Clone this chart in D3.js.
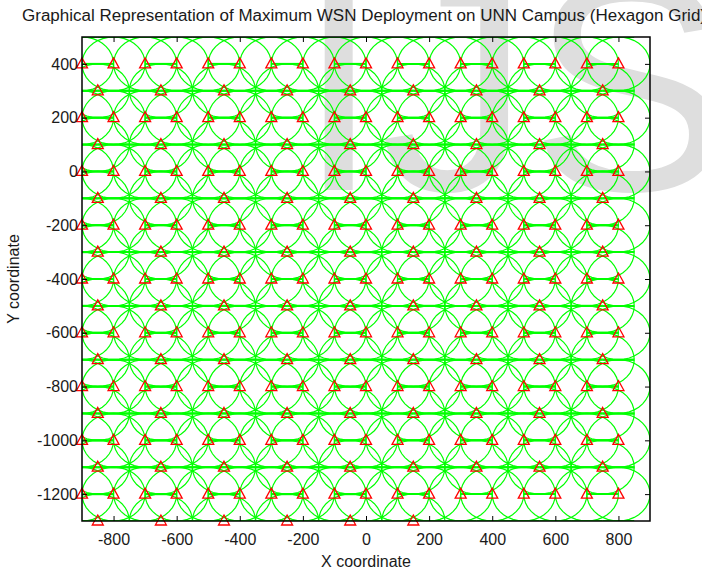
<!DOCTYPE html>
<html>
<head>
    <meta charset="UTF-8">
    <title>WSN Deployment (Hexagon Grid)</title>
    <script src="https://d3js.org/d3.v7.min.js"></script>
    <style>
        body { margin: 0; background: white; }
        svg { display: block; font-family: "Liberation Sans", Arial, Helvetica, sans-serif; }
        .watermark { fill: #dedede; font-size: 300px; }
        .coverage { fill: none; stroke: #00ff00; stroke-width: 1.2; }
        .flat { stroke: #00ff00; stroke-width: 2; }
        .node { fill: none; stroke: #ff0000; stroke-width: 1.3; }
        .frame { fill: none; stroke: black; stroke-width: 1.5; }
        .title, .axis-label { font-size: 16px; fill: #1a1a1a; }
    </style>
</head>
<body>
<div id="chart"></div>
<script>
    // rows of the hexagon grid (y coordinate of each row, top to bottom)
    const rowY = [400, 300, 200, 100, 0, -100, -200, -300, -400, -500, -600,
                  -700, -800, -900, -1000, -1100, -1200, -1300];
    // x positions in the full rows (400, 200, 0 ...)
    const evenRowX = [-900, -800, -700, -600, -500, -400, -300, -200, -100,
                      0, 100, 200, 300, 400, 500, 600, 700, 800];
    // x positions in the offset rows (300, 100, -100 ...)
    const oddRowX = [-850, -650, -450, -250, -50, 150, 350, 550, 750];
    // last row is only partly filled
    const lastRowX = [-850, -650, -450, -250, -50, 150];
    const sensingRange = 100;

    const xTicks = [-800, -600, -400, -200, 0, 200, 400, 600, 800];
    const yTicks = [-1200, -1000, -800, -600, -400, -200, 0, 200, 400];

    const nodes = [];
    rowY.forEach((ry, i) => {
        const xs = i === rowY.length - 1 ? lastRowX : (i % 2 === 0 ? evenRowX : oddRowX);
        xs.forEach(rx => nodes.push({x: rx, y: ry}));
    });

    const margin = {top: 37, right: 52, bottom: 50, left: 82};
    const W = 702, H = 571;
    const width = W - margin.left - margin.right;
    const height = H - margin.top - margin.bottom;

    const svg = d3.select("#chart").append("svg")
        .attr("width", W)
        .attr("height", H);

    // watermark behind everything
    svg.append("text")
        .attr("class", "watermark")
        .attr("x", 297)
        .attr("y", 190)
        .text("IJS");

    const g = svg.append("g")
        .attr("transform", `translate(${margin.left},${margin.top})`);

    const x = d3.scaleLinear().domain([-900, 900]).range([0, width]);
    const y = d3.scaleLinear().domain([-1300, 500]).range([height, 0]);

    g.append("clipPath").attr("id", "plot-clip")
        .append("rect").attr("width", width).attr("height", height);

    const plot = g.append("g").attr("clip-path", "url(#plot-clip)");

    // coverage circles
    const angles = d3.range(0, 37).map(k => k * 2 * Math.PI / 36);
    const circleLine = d3.line();
    plot.selectAll("path.coverage")
        .data(nodes)
        .enter()
        .append("path")
        .attr("class", "coverage")
        .attr("d", d => circleLine(angles.map(a => [
            x(d.x + sensingRange * Math.cos(a)),
            y(d.y + sensingRange * Math.sin(a))
        ])));

    // flattened tops and bottoms of the coverage shapes
    const flats = [];
    nodes.forEach(d => {
        flats.push({x0: d.x - sensingRange / 2, x1: d.x + sensingRange / 2, y: d.y + sensingRange});
        flats.push({x0: d.x - sensingRange / 2, x1: d.x + sensingRange / 2, y: d.y - sensingRange});
    });
    plot.selectAll("line.flat")
        .data(flats)
        .enter()
        .append("line")
        .attr("class", "flat")
        .attr("x1", d => x(d.x0))
        .attr("x2", d => x(d.x1))
        .attr("y1", d => y(d.y))
        .attr("y2", d => y(d.y));

    // sensor nodes (triangle markers)
    const tri = (cx, cy) => `M${cx},${cy - 6}L${cx + 5.5},${cy + 4}L${cx - 5.5},${cy + 4}Z`;
    g.selectAll("path.node")
        .data(nodes)
        .enter()
        .append("path")
        .attr("class", "node")
        .attr("d", d => tri(x(d.x), y(d.y)));

    // axes, ticks inside on all four sides
    const plain = d => String(d);
    const styleAxis = sel => {
        sel.attr("font-size", 16)
           .attr("font-family", '"Liberation Sans", Arial, sans-serif');
        sel.select(".domain").remove();
        sel.selectAll("text").attr("fill", "#1a1a1a");
    };
    g.append("g")
        .attr("transform", `translate(0,${height})`)
        .call(d3.axisBottom(x).tickValues(xTicks).tickFormat(plain).tickSize(-5).tickSizeOuter(0).tickPadding(13))
        .call(styleAxis);
    g.append("g")
        .call(d3.axisTop(x).tickValues(xTicks).tickSize(-5).tickSizeOuter(0).tickFormat(""))
        .call(styleAxis);
    g.append("g")
        .call(d3.axisLeft(y).tickValues(yTicks).tickFormat(plain).tickSize(-5).tickSizeOuter(0).tickPadding(4))
        .call(styleAxis);
    g.append("g")
        .attr("transform", `translate(${width},0)`)
        .call(d3.axisRight(y).tickValues(yTicks).tickSize(-5).tickSizeOuter(0).tickFormat(""))
        .call(styleAxis);

    g.append("rect")
        .attr("class", "frame")
        .attr("width", width)
        .attr("height", height);

    // title and axis labels
    svg.append("text")
        .attr("class", "title")
        .attr("x", 22)
        .attr("y", 21)
        .attr("textLength", 684)
        .attr("lengthAdjust", "spacingAndGlyphs")
        .text("Graphical Representation of Maximum WSN Deployment on UNN Campus (Hexagon Grid)");

    svg.append("text")
        .attr("class", "axis-label")
        .attr("text-anchor", "middle")
        .attr("x", margin.left + width / 2)
        .attr("y", 567)
        .text("X coordinate");

    svg.append("text")
        .attr("class", "axis-label")
        .attr("text-anchor", "middle")
        .attr("transform", `translate(19,${margin.top + height / 2}) rotate(-90)`)
        .text("Y coordinate");
</script>
</body>
</html>
